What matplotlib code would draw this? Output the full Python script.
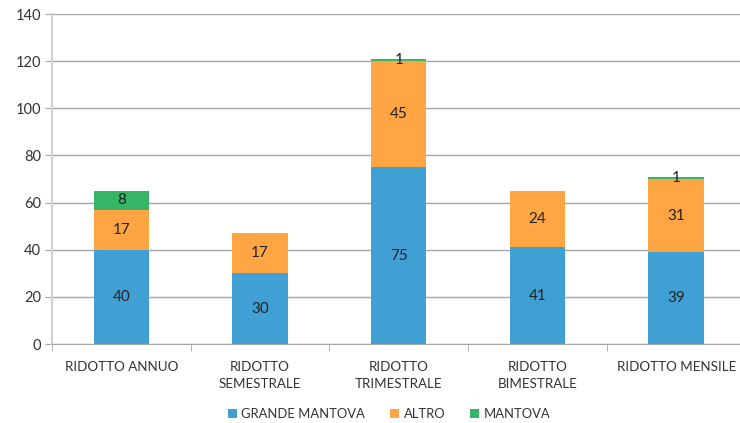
import matplotlib
matplotlib.use("Agg")
import matplotlib.pyplot as plt
import numpy as np

categories = ["RIDOTTO ANNUO", "RIDOTTO\nSEMESTRALE", "RIDOTTO\nTRIMESTRALE", "RIDOTTO\nBIMESTRALE", "RIDOTTO MENSILE"]
grande_mantova = [40, 30, 75, 41, 39]
altro = [17, 17, 45, 24, 31]
mantova = [8, 0, 1, 0, 1]
series_names = ["GRANDE MANTOVA", "ALTRO", "MANTOVA"]
colors = ["#41a0d3", "#ffa543", "#36b468"]

plt.rcParams['font.family'] = ['Lato', 'DejaVu Sans']

fig = plt.figure(figsize=(7.4, 4.23), dpi=100)
ax = fig.add_axes([52/740, 1-344/423, (745.5-52)/740, (344-14)/423])

x = np.arange(len(categories))
bottom = np.zeros(len(categories))
for vals, name, c in zip([grande_mantova, altro, mantova], series_names, colors):
    vals = np.array(vals, dtype=float)
    ax.bar(x, vals, 0.4, bottom=bottom, color=c, label=name, zorder=3)
    for xi, v, b in zip(x, vals, bottom):
        if v > 0:
            ax.text(xi, b + v/2, f"{int(v)}", ha='center', va='center', fontsize=11, color='#222222', zorder=4)
    bottom += vals

ax.set_xlim(-0.5, 4.5)
ax.set_ylim(0, 140)
ax.set_yticks(range(0, 141, 20))
ax.yaxis.grid(True, color='#a6a6a6', linewidth=1, zorder=0)
ax.set_axisbelow(True)
for s in ['top', 'right']:
    ax.spines[s].set_visible(False)
ax.spines['left'].set_color('#d0d0d0')
ax.spines['left'].set_linewidth(1.5)
ax.spines['bottom'].set_color('#a6a6a6')
ax.tick_params(axis='y', length=5, color='#a6a6a6', labelsize=10.5, labelcolor='#333333', pad=3)
ax.set_xticks(x)
ax.set_xticklabels(categories, fontsize=9.6, color='#333333', linespacing=1.5)
ax.tick_params(axis='x', which='major', length=0, pad=12)
ax.set_xticks(np.arange(-0.5, 4.6, 1), minor=True)
ax.tick_params(axis='x', which='minor', length=5, color='#a6a6a6')

leg = fig.legend(loc='center', bbox_to_anchor=(389/740, 1-414/423), ncol=3, frameon=False,
                 fontsize=9.4, handlelength=0.7, handleheight=0.7, handletextpad=0.35, columnspacing=1.9)
for t in leg.get_texts():
    t.set_color('#333333')

fig.savefig("out.png", dpi=100)
